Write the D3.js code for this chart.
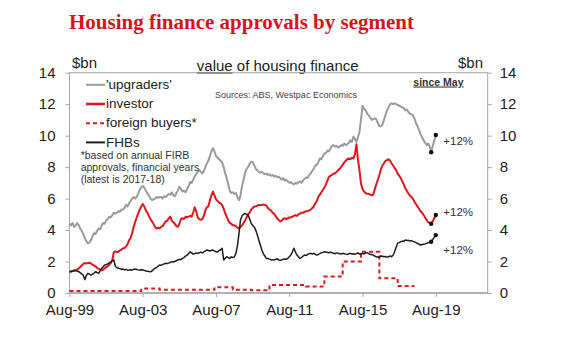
<!DOCTYPE html>
<html>
<head>
<meta charset="utf-8">
<script src="https://cdn.jsdelivr.net/npm/d3@7"></script>
<style>
  body { margin: 0; background: #fff; }
  svg { display: block; font-family: "Liberation Sans", Arial, sans-serif; }
  .axis text { font-size: 15px; fill: #222; }
  .axis line { stroke: #a6a6a6; }
  .axis path { display: none; }
</style>
</head>
<body>
<svg id="chart" width="580" height="352"></svg>
<script>
// ---------- Data (monthly, from Aug-99) ----------
const startMonth = "1999-08";
const xTickLabels = ["Aug-99", "Aug-03", "Aug-07", "Aug-11", "Aug-15", "Aug-19"];
const yTicks = [0, 2, 4, 6, 8, 10, 12, 14];

// 'upgraders' ($bn), one row per year Aug..Jul
const upgraders = [
  4.4, 4.3, 4.45, 4.2, 4.3, 4.45, 4.3, 4.1, 3.95, 3.75, 3.5, 3.3,
  3.15, 3.2, 3.35, 3.6, 3.8, 3.75, 3.95, 4.1, 4.05, 4.25, 4.45, 4.4,
  4.6, 4.7, 4.85, 4.8, 4.95, 5.1, 5.05, 5.1, 5.2, 5.15, 5.3, 5.3,
  5.4, 5.6, 5.5, 5.7, 5.85, 6.0, 6.1, 6.0, 6.1, 6.3, 6.55, 6.7,
  6.8, 6.7, 6.5, 6.35, 6.2, 6.0, 5.9, 5.95, 6.0, 6.1, 6.05, 6.1,
  6.1, 6.0, 6.15, 6.1, 6.2, 6.3, 6.25, 6.4, 6.2, 6.15, 6.35, 6.5,
  6.75, 6.6, 6.45, 6.5, 6.4, 6.6, 6.8, 7.05, 7.0, 7.2, 7.4, 7.55,
  7.7, 7.8, 7.7, 7.6, 7.75, 8.0, 8.25, 8.4, 8.7, 9.0, 9.2, 9.0,
  8.7, 8.6, 8.5, 8.4, 8.3, 8.0, 7.6, 7.3, 6.9, 6.5, 6.35, 6.4,
  6.3, 6.35, 6.1, 5.9, 6.2, 6.8, 7.2, 7.6, 7.9, 8.0, 8.2, 8.35,
  8.3, 8.1, 7.9, 7.8, 7.7, 7.65, 7.7, 7.6, 7.55, 7.6, 7.5, 7.55,
  7.45, 7.5, 7.4, 7.45, 7.35, 7.4, 7.3, 7.2, 7.3, 7.15, 7.2, 7.1,
  7.0, 7.05, 6.95, 6.9, 7.0, 6.95, 7.05, 7.1, 7.0, 7.15, 7.25, 7.35,
  7.3, 7.5, 7.6, 7.75, 7.9, 8.1, 8.15, 8.3, 8.55, 8.5, 8.7, 8.85,
  8.9, 9.05, 9.0, 9.2, 9.35, 9.4, 9.3, 9.35, 9.25, 9.3, 9.4, 9.35,
  9.5, 9.4, 9.45, 9.55, 9.7, 9.6, 9.95, 9.8, 9.6, 9.9, 10.25, 11.0,
  11.9, 11.7, 11.6, 11.4, 11.3, 11.15, 11.0, 11.05, 11.1, 11.05, 10.8, 10.6,
  10.6, 10.7, 11.0, 11.3, 11.6, 11.8, 12.0, 12.05, 12.0, 12.05, 12.0, 11.95,
  11.9, 11.85, 11.8, 11.75, 11.6, 11.65, 11.5, 11.4, 11.35, 11.3, 11.1, 10.8,
  10.6, 10.35, 10.1, 9.9, 9.7, 9.55, 9.4, 9.5, 9.3, 8.94, 9.35, 9.7,
  10.04
];

const investor = [
  1.35, 1.35, 1.4, 1.4, 1.45, 1.5, 1.55, 1.65, 1.75, 1.85, 1.9, 1.88,
  1.9, 1.92, 1.88, 1.8, 1.75, 1.7, 1.6, 1.55, 1.5, 1.45, 1.48, 1.55,
  1.65, 1.7, 1.8, 1.9, 2.1, 2.6, 2.65, 2.6, 2.62, 2.7, 2.75, 2.85,
  2.85, 2.95, 3.1, 3.35, 3.5, 3.8, 4.2, 4.5, 4.8, 5.05, 5.3, 5.5,
  5.65, 5.5, 5.25, 5.1, 4.9, 4.7, 4.55, 4.4, 4.2, 4.1, 4.15, 4.1,
  4.2, 4.25, 4.4, 4.55, 4.6, 4.75, 4.85, 4.6, 4.5, 4.4, 4.25, 4.2,
  4.4, 4.7, 4.75, 4.7, 4.85, 4.8, 4.85, 4.9, 4.85, 5.1, 5.45, 5.2,
  4.8, 4.7, 4.65, 4.7, 4.9, 5.25, 5.45, 5.5, 5.9, 6.2, 6.45, 6.2,
  5.95, 5.85, 5.75, 5.7, 5.6, 5.35, 5.05, 4.85, 4.6, 4.45, 4.4, 4.3,
  4.3, 4.25, 4.15, 4.1, 4.2, 4.3, 4.45, 4.6, 4.8, 5.0, 5.1, 5.3,
  5.4, 5.5, 5.5, 5.55, 5.6, 5.58, 5.6, 5.62, 5.6, 5.55, 5.4, 5.3,
  5.25, 5.1, 5.05, 4.9, 4.75, 4.65, 4.55, 4.6, 4.7, 4.75, 4.7, 4.75,
  4.8, 4.8, 4.85, 4.9, 4.95, 4.9, 5.0, 5.05, 5.1, 5.1, 5.15, 5.2,
  5.2, 5.25, 5.3, 5.4, 5.5, 5.7, 5.85, 6.1, 6.25, 6.4, 6.55, 6.7,
  6.9, 7.15, 7.4, 7.45, 7.5, 7.6, 7.6, 7.7, 7.8, 7.9, 8.0, 8.15,
  8.3, 8.4, 8.5, 8.55, 8.5, 8.6, 8.55, 8.8, 9.45, 8.5, 7.8, 6.95,
  6.6, 6.45, 6.35, 6.3, 6.3, 6.25, 6.2, 6.25, 6.6, 6.9, 7.2, 7.5,
  7.85, 8.1, 8.25, 8.4, 8.45, 8.5, 8.4, 8.25, 8.1, 7.95, 7.8, 7.6,
  7.45, 7.3, 7.1, 6.9, 6.65, 6.5, 6.33, 6.2, 6.1, 6.0, 5.8, 5.65,
  5.5, 5.35, 5.2, 5.1, 4.96, 4.8, 4.64, 4.5, 4.45, 4.4, 4.55, 4.75,
  4.96
];

const fhbs = [
  1.35, 1.38, 1.4, 1.45, 1.42, 1.4, 1.35, 1.3, 1.2, 1.14, 0.85, 1.1,
  1.25, 1.2, 1.14, 1.2, 1.25, 1.35, 1.3, 1.25, 1.4, 1.57, 1.65, 1.78,
  1.8, 1.85, 1.92, 1.95, 2.05, 2.1, 1.7, 1.62, 1.57, 1.55, 1.5, 1.52,
  1.48, 1.5, 1.45, 1.46, 1.48, 1.45, 1.5, 1.52, 1.5, 1.47, 1.45, 1.48,
  1.46, 1.44, 1.4, 1.38, 1.36, 1.35, 1.4, 1.5, 1.57, 1.62, 1.7, 1.78,
  1.76, 1.8, 1.85, 1.89, 1.87, 1.9, 1.95, 1.99, 1.97, 2.02, 2.05, 2.1,
  2.14, 2.12, 2.2, 2.25, 2.35, 2.41, 2.5, 2.62, 2.55, 2.47, 2.5, 2.55,
  2.52, 2.56, 2.6, 2.55, 2.62, 2.68, 2.73, 2.7, 2.66, 2.72, 2.73, 2.68,
  2.62, 2.6, 2.7, 2.75, 2.84, 2.1, 2.2, 2.31, 2.25, 2.2, 2.3, 2.25,
  2.3, 2.52, 3.0, 3.79, 4.64, 4.9, 5.0, 5.06, 5.0, 4.96, 4.7, 4.43,
  4.3, 4.2, 4.0, 3.7, 3.37, 3.05, 2.73, 2.5, 2.35, 2.2, 2.2, 2.15,
  2.1, 2.12, 2.1, 2.14, 2.18, 2.1, 2.08, 2.1, 2.14, 2.16, 2.14, 2.2,
  2.3, 2.41, 2.6, 2.84, 2.6, 2.41, 2.3, 2.2, 2.25, 2.35, 2.41, 2.38,
  2.45, 2.5, 2.52, 2.48, 2.52, 2.45, 2.41, 2.45, 2.5, 2.55, 2.58, 2.62,
  2.6, 2.58, 2.55, 2.6, 2.56, 2.52, 2.5, 2.55, 2.52, 2.5, 2.48, 2.52,
  2.5, 2.47, 2.45, 2.5, 2.52, 2.48, 2.5, 2.45, 2.5, 2.55, 2.47, 2.5,
  2.52, 2.48, 2.55, 2.56, 2.5, 2.45, 2.45, 2.41, 2.35, 2.3, 2.27, 2.3,
  2.35, 2.33, 2.3, 2.32, 2.28, 2.3, 2.35, 2.31, 2.4, 2.62, 2.9, 3.16,
  3.2, 3.26, 3.3, 3.28, 3.37, 3.33, 3.35, 3.3, 3.33, 3.28, 3.25, 3.2,
  3.15, 3.1, 3.05, 3.08, 3.1, 3.12, 3.16, 3.2, 3.22, 3.26, 3.4, 3.55,
  3.68
];

// foreign buyers: annual FIRB approvals by financial year (Jul-Jun)
const fyLabels = ["1999-00", "2000-01", "2001-02", "2002-03", "2003-04", "2004-05", "2005-06",
  "2006-07", "2007-08", "2008-09", "2009-10", "2010-11", "2011-12", "2012-13", "2013-14",
  "2014-15", "2015-16", "2016-17", "2017-18"];
const foreign = [0.13, 0.13, 0.13, 0.13, 0.28, 0.2, 0.2, 0.2, 0.36, 0.2, 0.17, 0.51, 0.51,
  0.42, 1.05, 2.0, 2.62, 0.93, 0.44];

const sinceMay = "2019-05";          // marker dots
const changeLabels = ["+12%", "+12%", "+12%"];

// ---------- Setup ----------
const svg = d3.select("#chart");
const parseMonth = d3.timeParse("%Y-%m");
const t0 = parseMonth(startMonth);
const dateAt = i => d3.timeMonth.offset(t0, i);

const x = d3.scaleTime()
  .domain([t0, parseMonth("2022-06")])
  .range([69.5, 487.7]);
const y = d3.scaleLinear().domain([0, 14]).range([293, 72.7]);

const RED = "#e3161d", GREY = "#9b9b9b", BLACK = "#1e1e1e";

// title & headings
svg.append("text").attr("x", 69).attr("y", 29)
  .attr("font-family", "'Liberation Serif', 'Times New Roman', serif")
  .attr("font-weight", "bold").attr("font-size", 21).attr("fill", "#d7141a")
  .text("Housing finance approvals by segment");

svg.append("text").attr("x", 72).attr("y", 68).attr("font-size", 15).attr("fill", "#222").text("$bn");
svg.append("text").attr("x", 483).attr("y", 68).attr("text-anchor", "end")
  .attr("font-size", 15).attr("fill", "#222").text("$bn");

const sub = svg.append("text").attr("x", 277.7).attr("y", 71).attr("text-anchor", "middle")
  .attr("font-size", 15).attr("fill", "#222");
sub.append("tspan").style("text-decoration", "underline").text("value");
sub.append("tspan").text(" of housing finance");

// ---------- Axes ----------
const xTickDates = xTickLabels.map(d3.timeParse("%b-%y"));
svg.append("g").attr("class", "axis")
  .attr("transform", "translate(0,293)")
  .call(d3.axisBottom(x).tickValues(xTickDates).tickSize(4).tickPadding(7)
    .tickFormat((d, i) => xTickLabels[i]));

svg.append("g").attr("class", "axis")
  .attr("transform", "translate(69.5,0)")
  .call(d3.axisLeft(y).tickValues(yTicks).tickSize(4).tickPadding(10));

svg.append("g").attr("class", "axis")
  .attr("transform", "translate(487.7,0)")
  .call(d3.axisRight(y).tickValues(yTicks).tickSize(4).tickPadding(8));

// frame
const [xl, xr] = x.range();
svg.append("rect").attr("x", xl).attr("y", y(14)).attr("width", xr - xl).attr("height", y(0) - y(14))
  .attr("fill", "none").attr("stroke", "#a6a6a6").attr("stroke-width", 1);
svg.append("line").attr("x1", xl).attr("x2", xr).attr("y1", y(0)).attr("y2", y(0))
  .attr("stroke", "#a6a6a6").attr("stroke-width", 1.6);

// ---------- Lines ----------
const line = d3.line().x((d, i) => x(dateAt(i))).y(d => y(d));

svg.append("path").datum(upgraders).attr("fill", "none").attr("stroke", GREY)
  .attr("stroke-width", 2).attr("stroke-linejoin", "round").attr("d", line);
svg.append("path").datum(investor).attr("fill", "none").attr("stroke", RED)
  .attr("stroke-width", 2).attr("stroke-linejoin", "round").attr("d", line);

// foreign buyers step series
const fyPts = fyLabels.map((l, i) => ({
  t: d3.max([t0, parseMonth(l.slice(0, 4) + "-07")]),
  v: foreign[i]
}));
fyPts.push({ t: d3.timeMonth.offset(parseMonth(fyLabels[fyLabels.length - 1].slice(0, 4) + "-07"), 11),
  v: foreign[foreign.length - 1] });
svg.append("path").datum(fyPts).attr("fill", "none").attr("stroke", RED)
  .attr("stroke-width", 2).attr("stroke-dasharray", "4,3")
  .attr("d", d3.line().curve(d3.curveStepAfter).x(d => x(d.t)).y(d => y(d.v)));

svg.append("path").datum(fhbs).attr("fill", "none").attr("stroke", BLACK)
  .attr("stroke-width", 1.5).attr("stroke-linejoin", "round").attr("d", line);

// markers since May and at latest
const iMay = d3.timeMonth.count(t0, parseMonth(sinceMay));
[upgraders, investor, fhbs].forEach(s => {
  [iMay, s.length - 1].forEach(i => {
    svg.append("circle").attr("cx", x(dateAt(i))).attr("cy", y(s[i])).attr("r", 2.2).attr("fill", "#111");
  });
});

// ---------- Annotations ----------
svg.append("text").attr("x", 413.3).attr("y", 85.5).attr("font-size", 10.5).attr("font-weight", "bold")
  .attr("fill", "#333").style("text-decoration", "underline").text("since May");
svg.append("text").attr("x", 215).attr("y", 97.5).attr("font-size", 9).attr("fill", "#444")
  .text("Sources: ABS, Westpac Economics");

const changeY = [144.7, 216.3, 254];
changeLabels.forEach((t, i) => {
  svg.append("text").attr("x", 443.3).attr("y", changeY[i]).attr("font-size", 11.5)
    .attr("fill", "#333").text(t);
});

// legend
const legend = [
  { name: "'upgraders'", color: GREY, w: 2 },
  { name: "investor", color: RED, w: 2.5 },
  { name: "foreign buyers*", color: RED, w: 2, dash: "4,3" },
  { name: "FHBs", color: BLACK, w: 2 }
];
const lg = svg.append("g").attr("transform", "translate(86,89)");
legend.forEach((d, i) => {
  const row = lg.append("g").attr("transform", `translate(0,${i * 19.2})`);
  row.append("line").attr("x1", 0).attr("x2", 19).attr("y1", -4.2).attr("y2", -4.2)
    .attr("stroke", d.color).attr("stroke-width", d.w).attr("stroke-dasharray", d.dash || null);
  row.append("text").attr("x", 20).attr("y", 0).attr("font-size", 13.5).attr("fill", "#222").text(d.name);
});

const note = ["*based on annual FIRB", "approvals, financial years", "(latest is 2017-18)"];
note.forEach((t, i) => {
  svg.append("text").attr("x", 80.7).attr("y", 159 + i * 12).attr("font-size", 10.5)
    .attr("fill", "#333").text(t);
});
</script>
</body>
</html>
